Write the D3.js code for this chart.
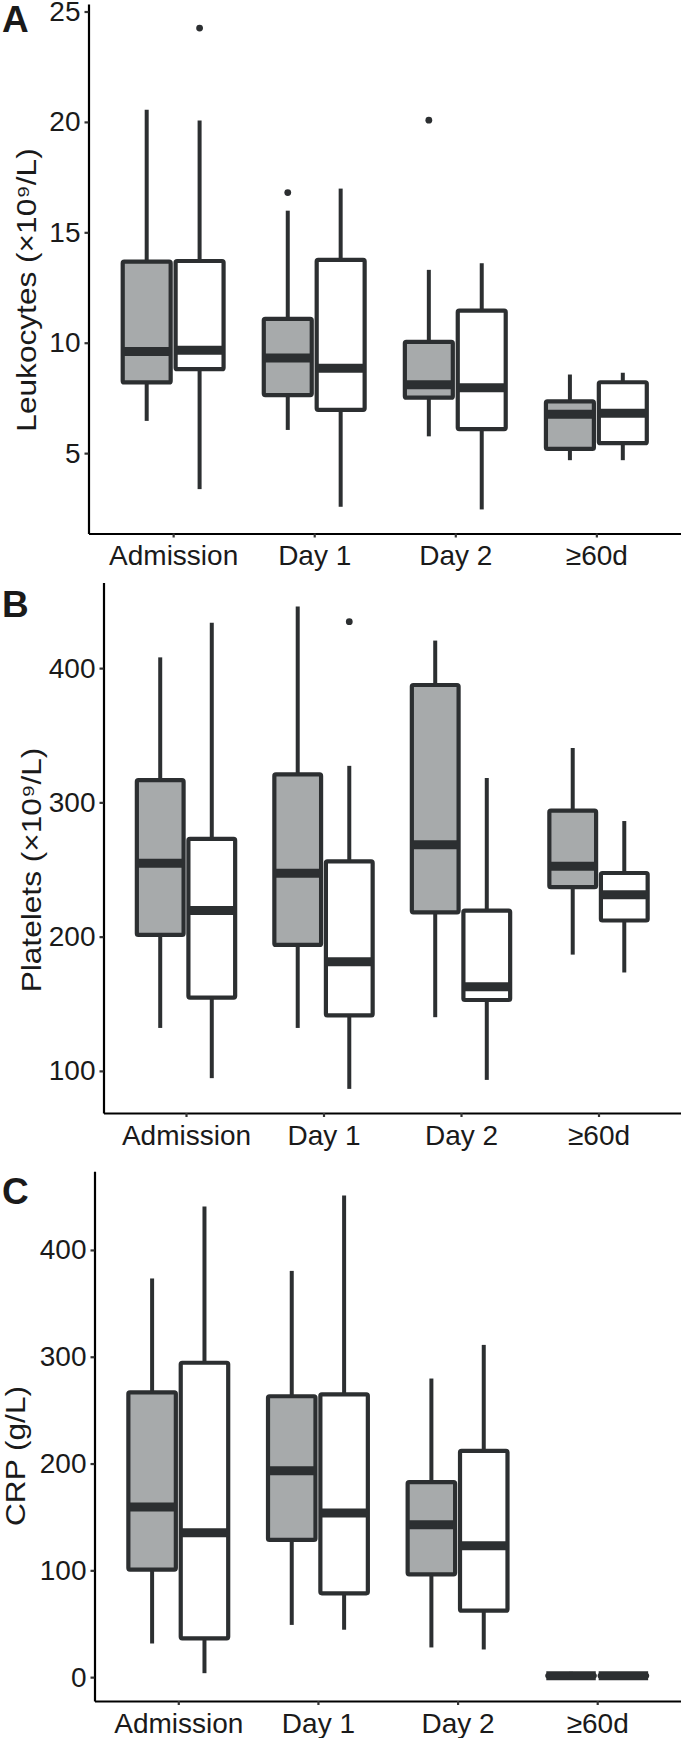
<!DOCTYPE html>
<html>
<head>
<meta charset="utf-8">
<script src="https://cdn.jsdelivr.net/npm/d3@7"></script>
<style>
  html, body { margin: 0; padding: 0; background: #ffffff; }
  svg { display: block; }
  text { font-family: "Liberation Sans", Arial, sans-serif; }
</style>
</head>
<body>
<svg id="chart" width="681" height="1738"></svg>
<script>
// ---------------- DATA ----------------
const categories = ["Admission", "Day 1", "Day 2", "≥60d"];

// box stats per category: [lower whisker, Q1, median, Q3, upper whisker]
const leukocytesGray  = [[6.46, 8.2, 9.6, 13.67, 20.55], [6.05, 7.63, 9.31, 11.08, 15.98], [5.76, 7.51, 8.1, 10.04, 13.3], [4.68, 5.19, 6.76, 7.34, 8.56]];
const leukocytesWhite = [[3.37, 8.8, 9.66, 13.7, 20.06], [2.57, 6.96, 8.84, 13.75, 16.98], [2.45, 6.09, 7.96, 11.45, 13.6], [4.68, 5.45, 6.81, 8.21, 8.64]];
const leukocytesOutGray  = [[], [16.8], [20.08], []];
const leukocytesOutWhite = [[24.25], [], [], []];
const leukocytesTicks = [5, 10, 15, 20, 25];

const plateletsGray  = [[132, 201.3, 254.6, 316.5, 408], [132, 193.8, 247.2, 320.8, 445.8], [140, 218.1, 268.5, 387.4, 420.5], [186.6, 236.8, 252.5, 293.8, 340.5]];
const plateletsWhite = [[94.6, 154.6, 219.4, 272.8, 433.8], [86.6, 141.3, 181.3, 256, 327.2], [93.3, 152.8, 162.6, 219.4, 318.1], [173.3, 212, 231.2, 247.4, 286.1]];
const plateletsOutGray  = [[], [], [], []];
const plateletsOutWhite = [[], [434.6], [], []];
const plateletsTicks = [100, 200, 300, 400];

const crpGray  = [[31.5, 100.7, 159.3, 266.7, 373.3], [48.9, 128.5, 193.3, 263, 380.4], [27.8, 96.3, 142.6, 182.6, 279.6], [0.2, 0.6, 1.2, 2.2, 5]];
const crpWhite = [[3.7, 36.3, 135.2, 294.4, 440.7], [44.4, 78.5, 153.7, 264.8, 451.1], [25.9, 62.2, 123, 211.9, 311.1], [0.2, 0.6, 1.2, 2.2, 4]];
const crpOutGray  = [[], [], [], []];
const crpOutWhite = [[], [], [], []];
const crpTicks = [0, 100, 200, 300, 400];

const panelLetters = ["A", "B", "C"];
const yTitles = ["Leukocytes (×10⁹/L)", "Platelets (×10⁹/L)", "CRP (g/L)"];

// ---------------- LAYOUT ----------------
const svg = d3.select("#chart");
const FILL_GRAY = "#a7aaab";
const STROKE = "#2c2f31";
const W = 681;

const panels = [
  { letter: panelLetters[0], title: yTitles[0], gray: leukocytesGray, white: leukocytesWhite, outGray: leukocytesOutGray, outWhite: leukocytesOutWhite, ticks: leukocytesTicks,
    left: 88.5, top: 4, bottom: 533.5, titleX: 36, titleY: 290, letterY: 32 },
  { letter: panelLetters[1], title: yTitles[1], gray: plateletsGray, white: plateletsWhite, outGray: plateletsOutGray, outWhite: plateletsOutWhite, ticks: plateletsTicks,
    left: 103.5, top: 582.5, bottom: 1113, titleX: 41, titleY: 870, letterY: 617 },
  { letter: panelLetters[2], title: yTitles[2], gray: crpGray, white: crpWhite, outGray: crpOutGray, outWhite: crpOutWhite, ticks: crpTicks,
    left: 94.5, top: 1171.3, bottom: 1701, titleX: 25, titleY: 1456, letterY: 1204 }
];

panels.forEach(p => {
  const g = svg.append("g");
  const allVals = [].concat(...p.gray, ...p.white, ...p.outGray, ...p.outWhite);
  const [mn, mx] = d3.extent(allVals);
  const pad = (mx - mn) * 0.05;
  const y = d3.scaleLinear().domain([mn - pad, mx + pad]).range([p.bottom, p.top]);
  const x = d3.scalePoint().domain(categories).range([p.left, W]).padding(0.6);
  const step = x.step();
  const dodge = 0.1875 * step;
  const bw = 0.34 * step;

  // boxes
  const series = [
    { stats: p.gray, out: p.outGray, fill: FILL_GRAY, off: -dodge },
    { stats: p.white, out: p.outWhite, fill: "#ffffff", off: dodge }
  ];
  series.forEach(s => {
    categories.forEach((c, i) => {
      const [lw, q1, med, q3, uw] = s.stats[i];
      const cx = x(c) + s.off;
      // whiskers
      g.append("line").attr("x1", cx).attr("x2", cx).attr("y1", y(q3)).attr("y2", y(uw))
        .attr("stroke", STROKE).attr("stroke-width", 4);
      g.append("line").attr("x1", cx).attr("x2", cx).attr("y1", y(q1)).attr("y2", y(lw))
        .attr("stroke", STROKE).attr("stroke-width", 4);
      // box
      g.append("rect").attr("x", cx - bw / 2).attr("width", bw)
        .attr("y", y(q3)).attr("height", Math.max(0, y(q1) - y(q3)))
        .attr("fill", s.fill).attr("stroke", STROKE).attr("stroke-width", 4.2)
        .attr("rx", 1.5);
      // median
      g.append("line").attr("x1", cx - bw / 2 - 1).attr("x2", cx + bw / 2 + 1)
        .attr("y1", y(med)).attr("y2", y(med))
        .attr("stroke", STROKE).attr("stroke-width", 9);
      // outliers
      s.out[i].forEach(v => {
        g.append("circle").attr("cx", cx).attr("cy", y(v)).attr("r", 3.4).attr("fill", STROKE);
      });
    });
  });

  // axes
  const yAxis = d3.axisLeft(y).tickValues(p.ticks).tickSize(4).tickSizeOuter(0).tickPadding(4);
  const ya = g.append("g").attr("transform", `translate(${p.left},0)`).call(yAxis);
  const xAxis = d3.axisBottom(x).tickSize(4).tickSizeOuter(0).tickPadding(8);
  const xa = g.append("g").attr("transform", `translate(0,${p.bottom})`).call(xAxis);
  [ya, xa].forEach(a => {
    a.select(".domain").attr("stroke", "#000").attr("stroke-width", 2.2);
    a.selectAll(".tick line").attr("stroke", "#333").attr("stroke-width", 2.2);
    a.selectAll(".tick text").attr("fill", "#1a1a1a")
      .style("font-family", "'Liberation Sans', Arial, sans-serif").style("font-size", "28px");
  });
  xa.selectAll(".tick text").attr("dy", "0.71em");

  // y title (slightly wide lettering as in the source figure)
  g.append("text")
    .attr("transform", `translate(${p.titleX},${p.titleY}) rotate(-90) scale(1.13,1)`)
    .attr("text-anchor", "middle")
    .attr("fill", "#1a1a1a")
    .style("font-size", "28px")
    .text(p.title);

  // panel letter
  g.append("text")
    .attr("x", 2).attr("y", p.letterY)
    .attr("fill", "#1a1a1a")
    .style("font-size", "37px").style("font-weight", "bold")
    .text(p.letter);
});
</script>
</body>
</html>
